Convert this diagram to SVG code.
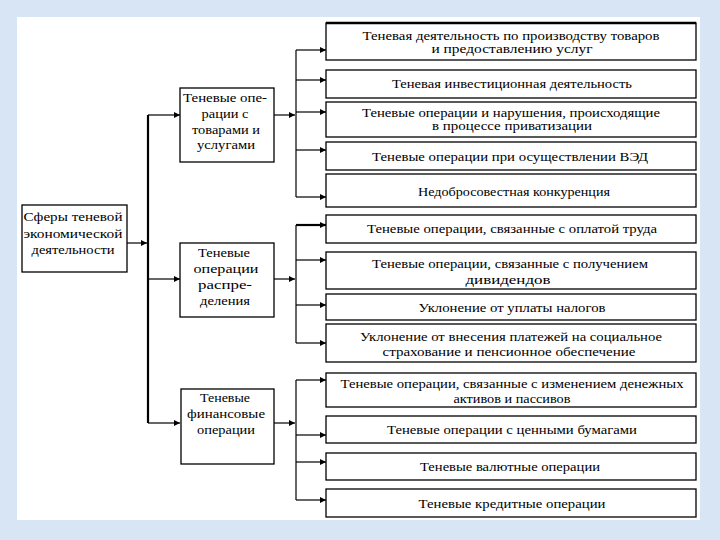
<svg xmlns="http://www.w3.org/2000/svg" width="720" height="540" viewBox="0 0 720 540">
<style>
.box{fill:#fff;stroke:#000;stroke-width:1.3}
.t{font-family:"Liberation Serif","Times New Roman",serif;font-size:12px;fill:#000;text-anchor:middle}
.m{font-family:"Liberation Serif","Times New Roman",serif;font-size:13.5px;fill:#000;text-anchor:middle}
.ln{fill:none;stroke:#000;stroke-width:1.2}
.thick{fill:none;stroke:#000;stroke-width:2.2}
</style>
<defs>
<marker id="ah" viewBox="0 0 10 10" refX="10" refY="5" markerWidth="8" markerHeight="6" markerUnits="userSpaceOnUse" orient="auto">
<path d="M0,0 L10,5 L0,10 Z" fill="#000"/>
</marker>
</defs>
<rect width="720" height="540" fill="#d8e5f5"/>
<rect x="17" y="17" width="683" height="503" fill="#fff"/>

<g id="connectors">
<line class="ln" x1="127" y1="243" x2="147" y2="243" marker-end="url(#ah)"/>
<line class="thick" x1="148" y1="115" x2="148" y2="423"/>
<line class="ln" x1="148" y1="115" x2="180" y2="115" marker-end="url(#ah)"/>
<line class="ln" x1="148" y1="279" x2="180" y2="279" marker-end="url(#ah)"/>
<line class="ln" x1="148" y1="423" x2="180" y2="423" marker-end="url(#ah)"/>
<line class="ln" x1="274" y1="115" x2="295" y2="115" marker-end="url(#ah)"/>
<line class="ln" x1="274" y1="279" x2="295" y2="279" marker-end="url(#ah)"/>
<line class="ln" x1="274" y1="423" x2="295" y2="423" marker-end="url(#ah)"/>
<line class="ln" x1="296" y1="50" x2="296" y2="197"/>
<line class="ln" x1="296" y1="225" x2="296" y2="343"/>
<line class="ln" x1="296" y1="380" x2="296" y2="500"/>
<line class="ln" x1="296" y1="50" x2="326" y2="50" marker-end="url(#ah)"/>
<line class="ln" x1="296" y1="80" x2="326" y2="80" marker-end="url(#ah)"/>
<line class="ln" x1="296" y1="112" x2="326" y2="112" marker-end="url(#ah)"/>
<line class="ln" x1="296" y1="150" x2="326" y2="150" marker-end="url(#ah)"/>
<line class="ln" x1="296" y1="197" x2="326" y2="197" marker-end="url(#ah)"/>
<line class="thick" x1="296" y1="225" x2="326" y2="225" marker-end="url(#ah)"/>
<line class="ln" x1="296" y1="260" x2="326" y2="260" marker-end="url(#ah)"/>
<line class="ln" x1="296" y1="305" x2="326" y2="305" marker-end="url(#ah)"/>
<line class="ln" x1="296" y1="343" x2="326" y2="343" marker-end="url(#ah)"/>
<line class="ln" x1="296" y1="380" x2="326" y2="380" marker-end="url(#ah)"/>
<line class="ln" x1="296" y1="435" x2="326" y2="435" marker-end="url(#ah)"/>
<line class="ln" x1="296" y1="462" x2="326" y2="462" marker-end="url(#ah)"/>
<line class="ln" x1="296" y1="500" x2="326" y2="500" marker-end="url(#ah)"/>
</g>

<g id="root">
<rect class="box" x="22" y="205" width="105" height="67"/>
<text class="m" x="73" y="221" textLength="99" lengthAdjust="spacingAndGlyphs">Сферы теневой</text>
<text class="m" x="73" y="238" textLength="99" lengthAdjust="spacingAndGlyphs">экономической</text>
<text class="m" x="73" y="254" textLength="83" lengthAdjust="spacingAndGlyphs">деятельности</text>
</g>

<g id="mid1">
<rect class="box" x="180" y="88" width="94" height="74"/>
<text class="m" x="225" y="102" textLength="84" lengthAdjust="spacingAndGlyphs">Теневые опе-</text>
<text class="m" x="225" y="118" textLength="47" lengthAdjust="spacingAndGlyphs">рации с</text>
<text class="m" x="226" y="134" textLength="68" lengthAdjust="spacingAndGlyphs">товарами и</text>
<text class="m" x="226" y="149" textLength="58" lengthAdjust="spacingAndGlyphs">услугами</text>
</g>

<g id="mid2">
<rect class="box" x="180" y="243" width="94" height="74"/>
<text class="m" x="224" y="257" textLength="52" lengthAdjust="spacingAndGlyphs">Теневые</text>
<text class="m" x="226" y="273" textLength="65" lengthAdjust="spacingAndGlyphs">операции</text>
<text class="m" x="225" y="289" textLength="54" lengthAdjust="spacingAndGlyphs">распре-</text>
<text class="m" x="225" y="305" textLength="50" lengthAdjust="spacingAndGlyphs">деления</text>
</g>

<g id="mid3">
<rect class="box" x="181" y="389" width="93" height="75"/>
<text class="m" x="225" y="402" textLength="50" lengthAdjust="spacingAndGlyphs">Теневые</text>
<text class="m" x="226" y="418" textLength="78" lengthAdjust="spacingAndGlyphs">финансовые</text>
<text class="m" x="226" y="434" textLength="58" lengthAdjust="spacingAndGlyphs">операции</text>
</g>

<g id="r1">
<rect class="box" x="326" y="23" width="370" height="37"/>
<line x1="326" y1="23" x2="696" y2="23" stroke="#000" stroke-width="2.5"/>
<text class="t" x="511" y="39.5" textLength="297" lengthAdjust="spacingAndGlyphs">Теневая деятельность по производству товаров</text>
<text class="t" x="512" y="52.5" textLength="161" lengthAdjust="spacingAndGlyphs">и предоставлению услуг</text>
</g>
<g id="r2">
<rect class="box" x="326" y="70" width="370" height="28"/>
<text class="t" x="512" y="87.5" textLength="240" lengthAdjust="spacingAndGlyphs">Теневая инвестиционная деятельность</text>
</g>
<g id="r3">
<rect class="box" x="326" y="102" width="370" height="35"/>
<text class="t" x="511" y="116.5" textLength="298" lengthAdjust="spacingAndGlyphs">Теневые операции и нарушения, происходящие</text>
<text class="t" x="512" y="129.5" textLength="160" lengthAdjust="spacingAndGlyphs">в процессе приватизации</text>
</g>
<g id="r4">
<rect class="box" x="326" y="142" width="370" height="28"/>
<text class="t" x="510" y="160.5" textLength="276" lengthAdjust="spacingAndGlyphs">Теневые операции при осуществлении ВЭД</text>
</g>
<g id="r5">
<rect class="box" x="326" y="174" width="370" height="33"/>
<text class="t" x="514" y="195.5" textLength="192" lengthAdjust="spacingAndGlyphs">Недобросовестная конкуренция</text>
</g>
<g id="r6">
<rect class="box" x="326" y="215" width="370" height="28"/>
<text class="t" x="512" y="232.5" textLength="290" lengthAdjust="spacingAndGlyphs">Теневые операции, связанные с оплатой труда</text>
</g>
<g id="r7">
<rect class="box" x="326" y="252" width="370" height="37"/>
<text class="t" x="510" y="267.5" textLength="276" lengthAdjust="spacingAndGlyphs">Теневые операции, связанные с получением</text>
<text class="t" x="508" y="283.5" textLength="85" lengthAdjust="spacingAndGlyphs">дивидендов</text>
</g>
<g id="r8">
<rect class="box" x="326" y="294" width="370" height="26"/>
<text class="t" x="512" y="311.5" textLength="187" lengthAdjust="spacingAndGlyphs">Уклонение от уплаты налогов</text>
</g>
<g id="r9">
<rect class="box" x="326" y="324" width="370" height="38"/>
<text class="t" x="511" y="340.5" textLength="302" lengthAdjust="spacingAndGlyphs">Уклонение от внесения платежей на социальное</text>
<text class="t" x="509" y="355.5" textLength="253" lengthAdjust="spacingAndGlyphs">страхование и пенсионное обеспечение</text>
</g>
<g id="r10">
<rect class="box" x="326" y="373" width="370" height="34"/>
<text class="t" x="512" y="387.5" textLength="343" lengthAdjust="spacingAndGlyphs">Теневые операции, связанные с изменением денежных</text>
<text class="t" x="512" y="402.5" textLength="117" lengthAdjust="spacingAndGlyphs">активов и пассивов</text>
</g>
<g id="r11">
<rect class="box" x="326" y="416" width="370" height="27"/>
<text class="t" x="512" y="433.5" textLength="250" lengthAdjust="spacingAndGlyphs">Теневые операции с ценными бумагами</text>
</g>
<g id="r12">
<rect class="box" x="326" y="453" width="370" height="27"/>
<text class="t" x="510" y="470.5" textLength="180" lengthAdjust="spacingAndGlyphs">Теневые валютные операции</text>
</g>
<g id="r13">
<rect class="box" x="326" y="489" width="370" height="28"/>
<text class="t" x="512" y="507.5" textLength="187" lengthAdjust="spacingAndGlyphs">Теневые кредитные операции</text>
</g>
</svg>
